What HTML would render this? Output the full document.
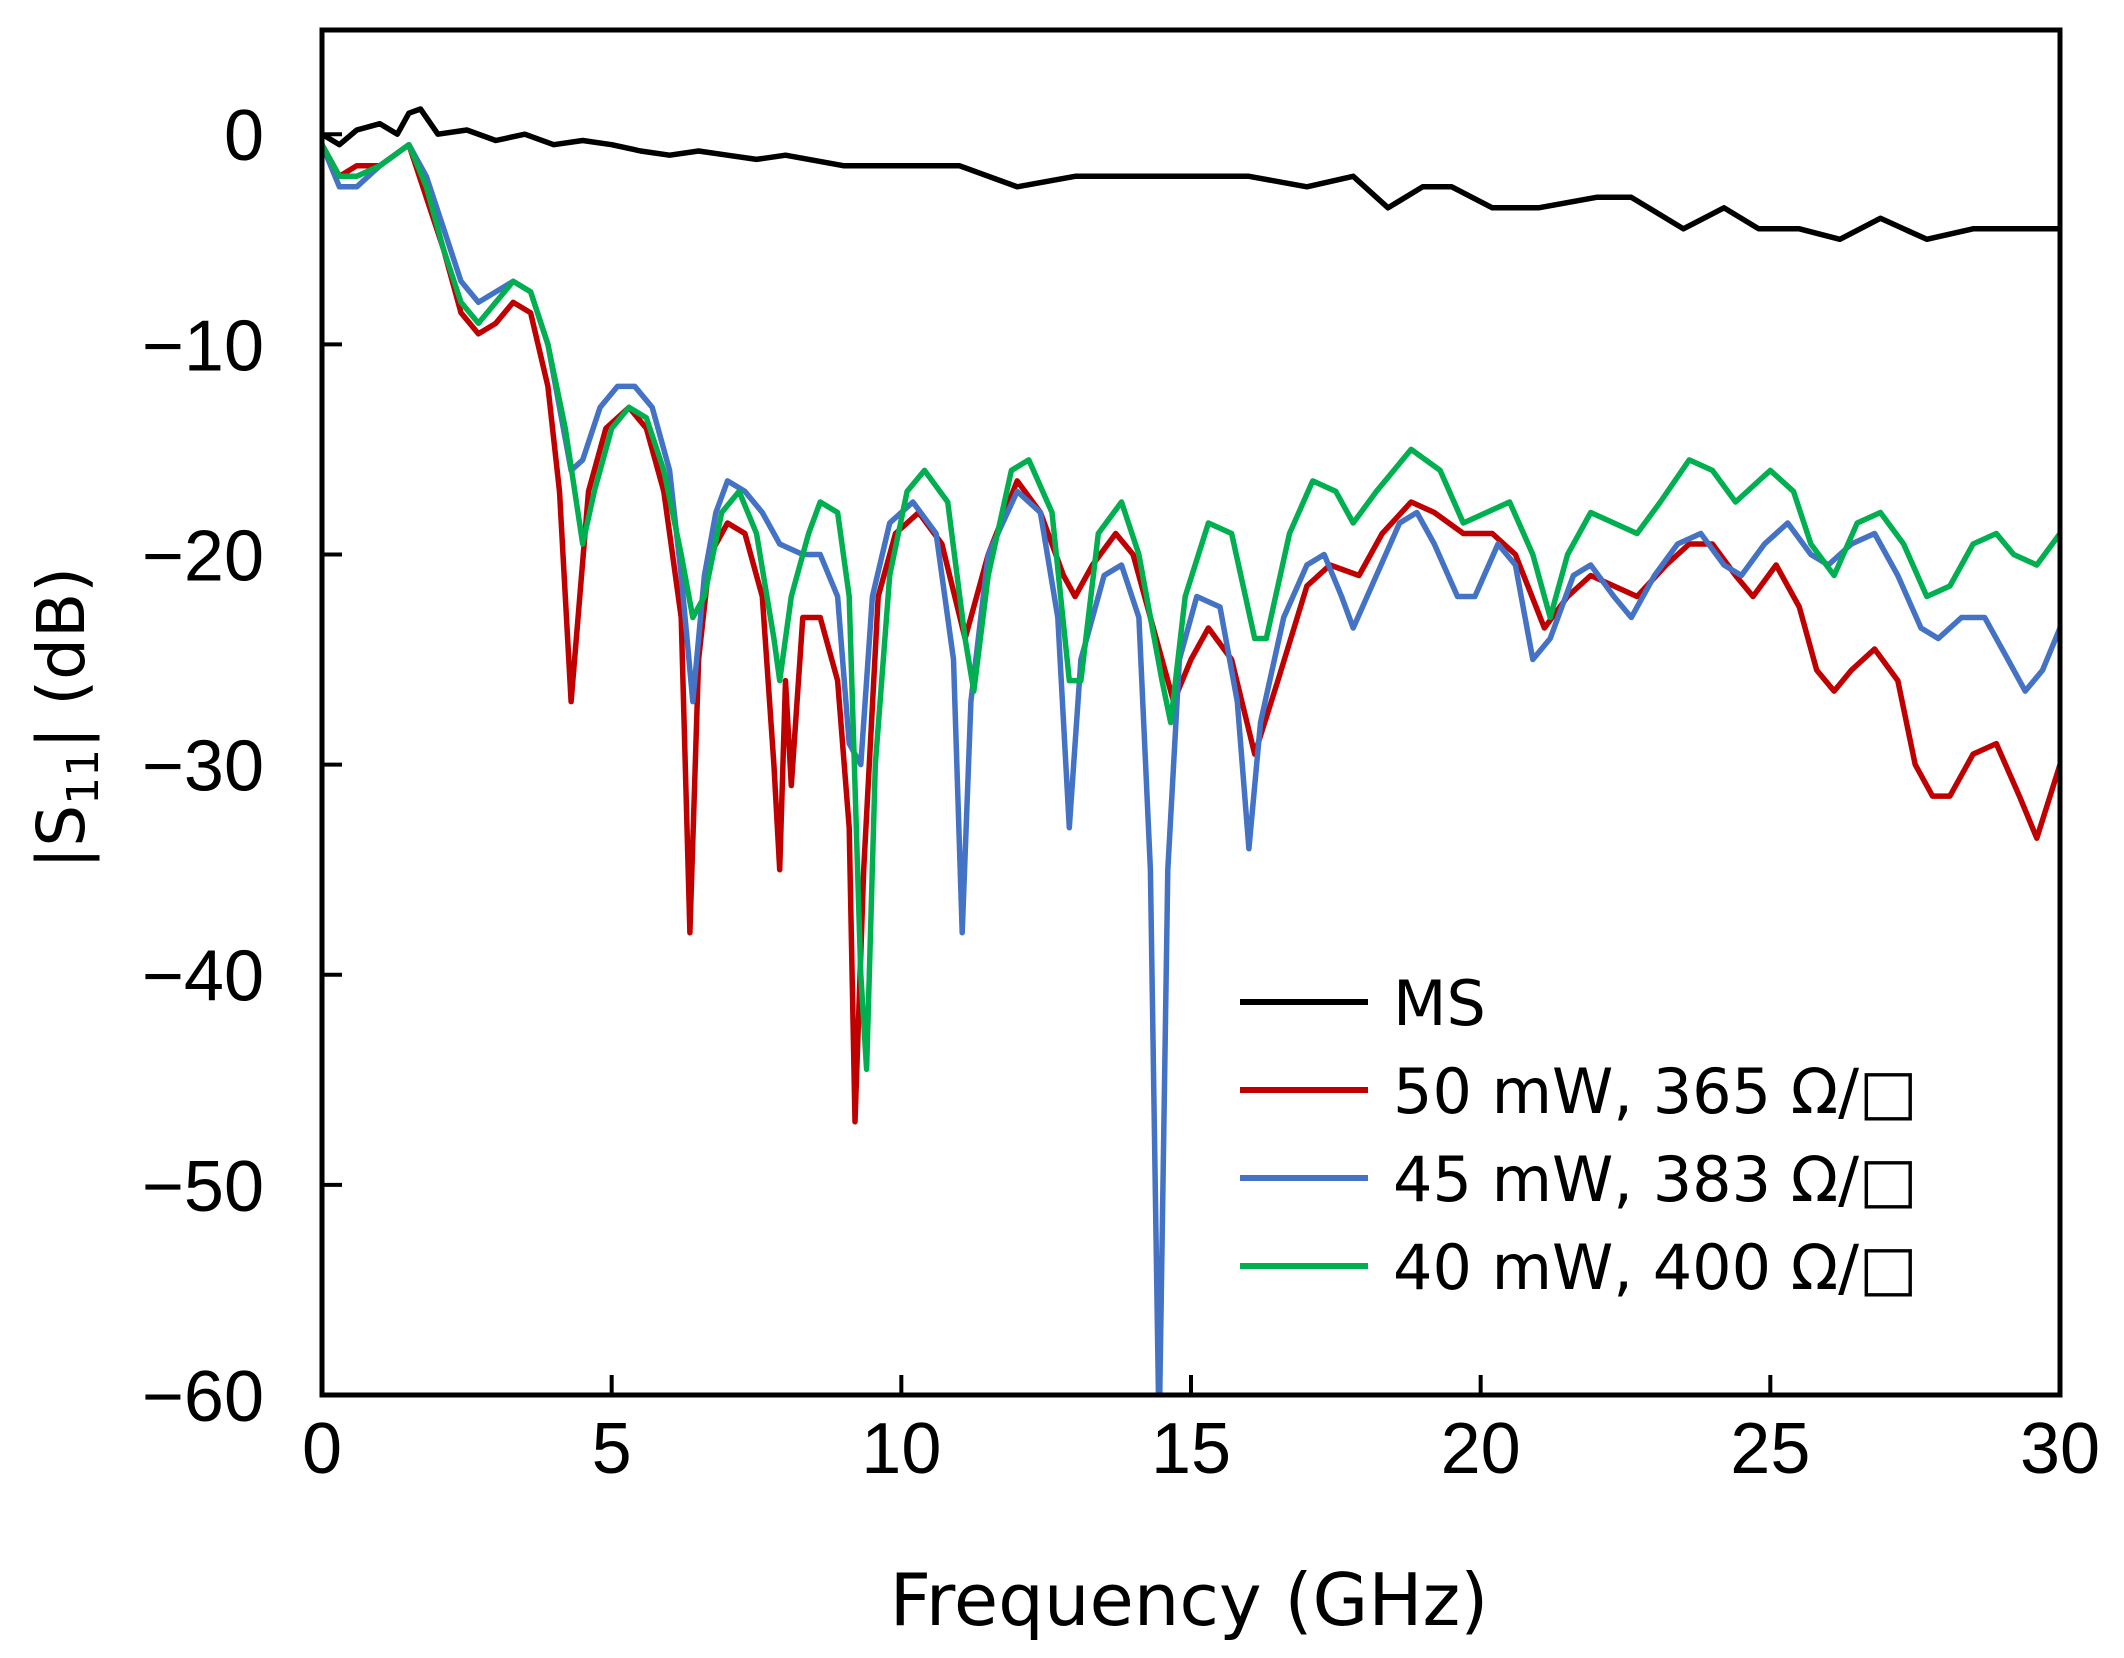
<!DOCTYPE html>
<html><head><meta charset="utf-8"><style>
html,body{margin:0;padding:0;background:#fff;}
svg{display:block;font-family:"Liberation Sans",sans-serif;}
</style></head><body>
<svg id="chart" width="2124" height="1658" viewBox="0 0 2124 1658" xmlns="http://www.w3.org/2000/svg">
<defs><clipPath id="plotclip"><rect x="322" y="30" width="1738" height="1365"/></clipPath></defs>
<g id="axes"></g>
<g id="series" clip-path="url(#plotclip)"></g>
<rect x="322" y="30" width="1738" height="1365" fill="none" stroke="#000" stroke-width="5"/>
<text x="1189" y="1625" font-size="72" text-anchor="middle" font-family="'DejaVu Sans',sans-serif">Frequency (GHz)</text>
<text transform="translate(84,718) rotate(-90)" font-size="66" text-anchor="middle" font-family="'DejaVu Sans',sans-serif">|S<tspan font-size="44" dy="14">11</tspan><tspan dy="-14">| (dB)</tspan></text>
<g id="legend"></g>
</svg>
<script>
const xTicks=[0,5,10,15,20,25,30];
const yTicks=[0,-10,-20,-30,-40,-50,-60];
const yTickLabels=["0","\u221210","\u221220","\u221230","\u221240","\u221250","\u221260"];
const seriesNames=["MS","50 mW, 365 \u03A9/\u25A1","45 mW, 383 \u03A9/\u25A1","40 mW, 400 \u03A9/\u25A1"];
const msF=[0,0.3,0.6,1.0,1.3,1.5,1.7,2.0,2.5,3.0,3.5,4.0,4.5,5.0,5.5,6.0,6.5,7.0,7.5,8.0,9.0,10,11,12,13,14,15,16,17,17.8,18.4,19.0,19.5,20.2,21,22,22.6,23.5,24.2,24.8,25.5,26.2,26.9,27.7,28.5,30];
const msV=[0,-0.5,0.2,0.5,0,1,1.2,0,0.2,-0.3,0,-0.5,-0.3,-0.5,-0.8,-1,-0.8,-1,-1.2,-1,-1.5,-1.5,-1.5,-2.5,-2,-2,-2,-2,-2.5,-2,-3.5,-2.5,-2.5,-3.5,-3.5,-3,-3,-4.5,-3.5,-4.5,-4.5,-5,-4,-5,-4.5,-4.5];
const redF=[0,0.3,0.6,1.0,1.5,1.8,2.1,2.4,2.7,3.0,3.3,3.6,3.9,4.1,4.3,4.45,4.6,4.9,5.3,5.6,5.9,6.2,6.35,6.5,6.7,7.0,7.3,7.6,7.8,7.9,8.0,8.1,8.3,8.6,8.9,9.1,9.2,9.35,9.6,9.9,10.3,10.7,11.1,11.5,12.0,12.4,12.8,13.0,13.3,13.7,14.0,14.3,14.7,15.0,15.3,15.7,16.1,16.5,17.0,17.4,17.9,18.3,18.8,19.2,19.7,20.2,20.6,21.1,21.5,21.9,22.3,22.7,23.2,23.6,24.0,24.4,24.7,25.1,25.5,25.8,26.1,26.4,26.8,27.2,27.5,27.8,28.1,28.5,28.9,29.3,29.6,30];
const redV=[-0.5,-2,-1.5,-1.5,-0.5,-3,-5.5,-8.5,-9.5,-9,-8,-8.5,-12,-17,-27,-22,-17,-14,-13,-14,-17,-23,-38,-25,-20,-18.5,-19,-22,-30,-35,-26,-31,-23,-23,-26,-33,-47,-35,-22,-19,-18,-19.5,-24,-20,-16.5,-18,-21,-22,-20.5,-19,-20,-23,-27,-25,-23.5,-25,-29.5,-26,-21.5,-20.5,-21,-19,-17.5,-18,-19,-19,-20,-23.5,-22,-21,-21.5,-22,-20.5,-19.5,-19.5,-21,-22,-20.5,-22.5,-25.5,-26.5,-25.5,-24.5,-26,-30,-31.5,-31.5,-29.5,-29,-31.5,-33.5,-30];
const blueF=[0,0.3,0.6,1.0,1.5,1.8,2.1,2.4,2.7,3.0,3.3,3.6,3.9,4.1,4.3,4.5,4.8,5.1,5.4,5.7,6.0,6.2,6.4,6.6,6.8,7.0,7.3,7.6,7.9,8.3,8.6,8.9,9.1,9.3,9.5,9.8,10.2,10.6,10.9,11.05,11.2,11.5,12.0,12.4,12.7,12.9,13.1,13.5,13.8,14.1,14.3,14.45,14.6,14.8,15.1,15.5,15.8,16.0,16.2,16.6,17.0,17.3,17.6,17.8,18.2,18.6,18.9,19.2,19.6,19.9,20.3,20.6,20.9,21.2,21.6,21.9,22.3,22.6,23.0,23.4,23.8,24.2,24.5,24.9,25.3,25.7,26.0,26.4,26.8,27.2,27.6,27.9,28.3,28.7,29.1,29.4,29.7,30];
const blueV=[-0.5,-2.5,-2.5,-1.5,-0.5,-2,-4.5,-7,-8,-7.5,-7,-7.5,-10,-13,-16,-15.5,-13,-12,-12,-13,-16,-21,-27,-21,-18,-16.5,-17,-18,-19.5,-20,-20,-22,-29,-30,-22,-18.5,-17.5,-19,-25,-38,-27,-20,-17,-18,-23,-33,-25,-21,-20.5,-23,-35,-62,-35,-25,-22,-22.5,-27,-34,-28,-23,-20.5,-20,-22,-23.5,-21,-18.5,-18,-19.5,-22,-22,-19.5,-20.5,-25,-24,-21,-20.5,-22,-23,-21,-19.5,-19,-20.5,-21,-19.5,-18.5,-20,-20.5,-19.5,-19,-21,-23.5,-24,-23,-23,-25,-26.5,-25.5,-23.5];
const greenF=[0,0.3,0.6,1.0,1.5,1.8,2.1,2.4,2.7,3.0,3.3,3.6,3.9,4.2,4.5,4.7,5.0,5.3,5.6,5.9,6.2,6.4,6.6,6.9,7.2,7.5,7.8,7.9,8.1,8.4,8.6,8.9,9.1,9.3,9.4,9.55,9.8,10.1,10.4,10.8,11.1,11.25,11.5,11.9,12.2,12.6,12.9,13.1,13.4,13.8,14.1,14.5,14.65,14.9,15.3,15.7,16.1,16.3,16.7,17.1,17.5,17.8,18.2,18.8,19.3,19.7,20.1,20.5,20.9,21.2,21.5,21.9,22.3,22.7,23.1,23.6,24.0,24.4,24.8,25.0,25.4,25.7,26.1,26.5,26.9,27.3,27.7,28.1,28.5,28.9,29.2,29.6,30];
const greenV=[-0.5,-2,-2,-1.5,-0.5,-2.5,-5.5,-8,-9,-8,-7,-7.5,-10,-14,-19.5,-17,-14,-13,-13.5,-16,-20,-23,-22,-18,-17,-19,-24,-26,-22,-19,-17.5,-18,-22,-40,-44.5,-30,-21,-17,-16,-17.5,-24,-26.5,-21,-16,-15.5,-18,-26,-26,-19,-17.5,-20,-26,-28,-22,-18.5,-19,-24,-24,-19,-16.5,-17,-18.5,-17,-15,-16,-18.5,-18,-17.5,-20,-23,-20,-18,-18.5,-19,-17.5,-15.5,-16,-17.5,-16.5,-16,-17,-19.5,-21,-18.5,-18,-19.5,-22,-21.5,-19.5,-19,-20,-20.5,-19];
const NS="http://www.w3.org/2000/svg";
const X0=322,X1=2060,Y0=30,Y1=1395,XMIN=0,XMAX=30,YMIN=-60,YMAX=4.96;
function sx(v){return X0+(v-XMIN)/(XMAX-XMIN)*(X1-X0);}
function sy(v){return Y1-(v-YMIN)/(YMAX-YMIN)*(Y1-Y0);}
const axes=document.getElementById('axes');
xTicks.forEach(t=>{
  const l=document.createElementNS(NS,'line');
  l.setAttribute('x1',sx(t));l.setAttribute('x2',sx(t));l.setAttribute('y1',Y1);l.setAttribute('y2',Y1-20);
  l.setAttribute('stroke','#000');l.setAttribute('stroke-width','4');
  
  
  axes.appendChild(l);
  const tx=document.createElementNS(NS,'text');
  tx.setAttribute('x',sx(t));tx.setAttribute('y',Y1+78);tx.setAttribute('font-size','72');tx.setAttribute('text-anchor','middle');
  tx.textContent=String(t);
  
  
  axes.appendChild(tx);
});
yTicks.forEach((t,i)=>{
  const l=document.createElementNS(NS,'line');
  l.setAttribute('x1',X0);l.setAttribute('x2',X0+20);l.setAttribute('y1',sy(t));l.setAttribute('y2',sy(t));
  l.setAttribute('stroke','#000');l.setAttribute('stroke-width','4');
  
  
  axes.appendChild(l);
  const tx=document.createElementNS(NS,'text');
  tx.setAttribute('x',264);tx.setAttribute('y',sy(t)+26);tx.setAttribute('font-size','72');tx.setAttribute('text-anchor','end');
  tx.textContent=yTickLabels[i];
  
  
  axes.appendChild(tx);
});
const colors=["#000000","#c00000","#4472c4","#00b050"];
const allF=[msF,redF,blueF,greenF],allV=[msV,redV,blueV,greenV];
const sg=document.getElementById('series');
[1,2,3,0].forEach(i=>{
  const p=document.createElementNS(NS,'polyline');
  p.setAttribute('points',allF[i].map((f,j)=>sx(f).toFixed(1)+','+sy(allV[i][j]).toFixed(1)).join(' '));
  p.setAttribute('fill','none');p.setAttribute('stroke',colors[i]);p.setAttribute('stroke-width','5.5');p.setAttribute('stroke-linejoin','round');
  
  
  sg.appendChild(p);
});
const lg=document.getElementById('legend');
seriesNames.forEach((n,i)=>{
  const y=1002+i*88;
  const l=document.createElementNS(NS,'line');
  l.setAttribute('x1',1240);l.setAttribute('x2',1368);l.setAttribute('y1',y);l.setAttribute('y2',y);
  l.setAttribute('stroke',colors[i]);l.setAttribute('stroke-width','6');
  
  
  lg.appendChild(l);
  const tx=document.createElementNS(NS,'text');
  tx.setAttribute('x',1393);tx.setAttribute('y',y+23);tx.setAttribute('font-size','62');tx.setAttribute('font-family',"'DejaVu Sans',sans-serif");
  tx.textContent=n;
  
  
  lg.appendChild(tx);
});
</script>
</body></html>
